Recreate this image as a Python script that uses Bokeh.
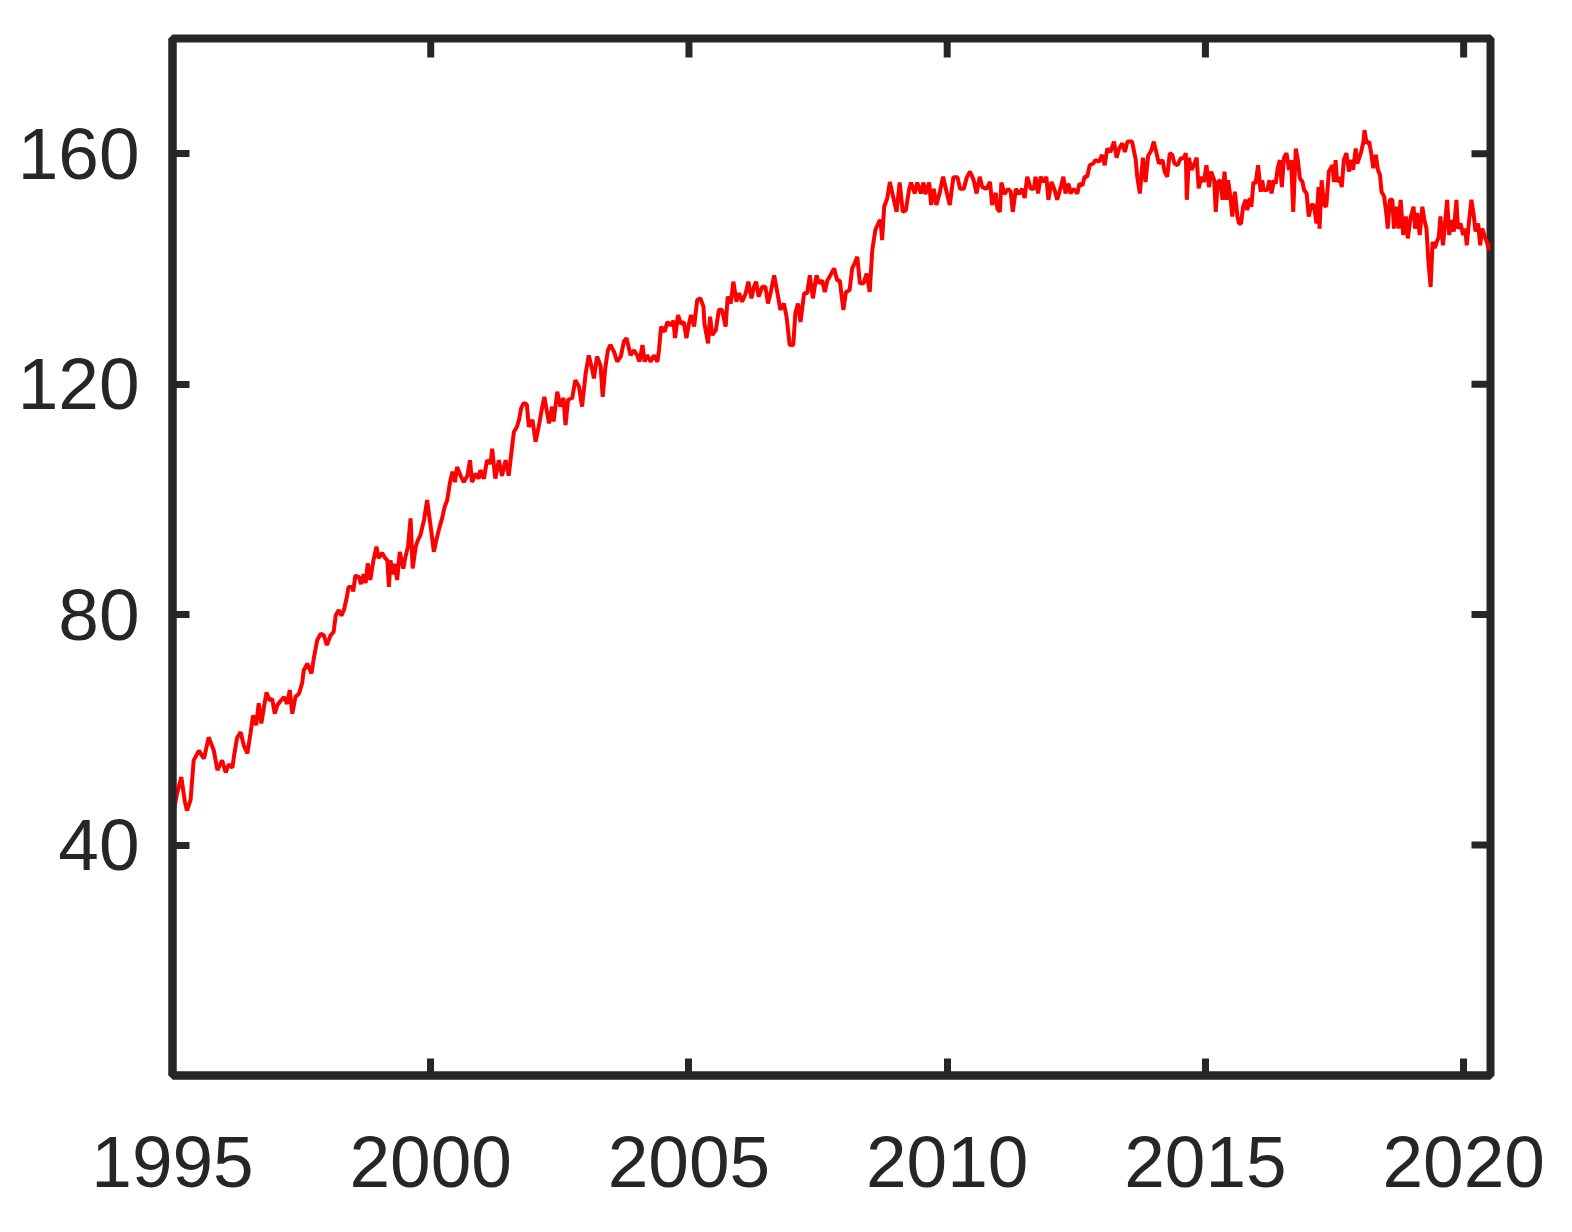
import math
from bokeh.plotting import figure
from bokeh.models import Range1d, FixedTicker, ColumnDataSource
from bokeh.embed import file_html
from bokeh.resources import INLINE

# decimal years of the observations
years = [
    1995.00, 1995.09, 1995.17, 1995.24, 1995.28, 1995.35, 1995.41, 1995.51, 1995.61, 1995.70,
    1995.80, 1995.87, 1995.96, 1996.03, 1996.09, 1996.16, 1996.19, 1996.25, 1996.32, 1996.38,
    1996.45, 1996.51, 1996.56, 1996.62, 1996.67, 1996.72, 1996.77, 1996.82, 1996.88, 1996.93,
    1996.98, 1997.03, 1997.09, 1997.16, 1997.22, 1997.27, 1997.32, 1997.38, 1997.45, 1997.51,
    1997.54, 1997.61, 1997.69, 1997.74, 1997.80, 1997.87, 1997.93, 1997.99, 1998.06, 1998.12,
    1998.16, 1998.22, 1998.27, 1998.32, 1998.37, 1998.41, 1998.48, 1998.50, 1998.54, 1998.61,
    1998.65, 1998.70, 1998.74, 1998.78, 1998.83, 1998.89, 1998.95, 1998.99, 1999.06, 1999.12,
    1999.16, 1999.19, 1999.22, 1999.27, 1999.30, 1999.35, 1999.40, 1999.47, 1999.51, 1999.56,
    1999.61, 1999.65, 1999.71, 1999.75, 1999.80, 1999.87, 1999.93, 2000.00, 2000.06, 2000.11,
    2000.18, 2000.22, 2000.27, 2000.32, 2000.37, 2000.42, 2000.47, 2000.51, 2000.58, 2000.64,
    2000.71, 2000.76, 2000.80, 2000.87, 2000.93, 2000.96, 2001.03, 2001.09, 2001.16, 2001.19,
    2001.25, 2001.32, 2001.38, 2001.45, 2001.51, 2001.56, 2001.61, 2001.67, 2001.71, 2001.75,
    2001.80, 2001.86, 2001.90, 2001.97, 2002.03, 2002.09, 2002.16, 2002.20, 2002.29, 2002.35,
    2002.38, 2002.45, 2002.51, 2002.57, 2002.61, 2002.66, 2002.74, 2002.80, 2002.87, 2002.93,
    2003.00, 2003.06, 2003.13, 2003.16, 2003.22, 2003.29, 2003.33, 2003.38, 2003.43, 2003.48,
    2003.55, 2003.61, 2003.68, 2003.74, 2003.79, 2003.87, 2003.93, 2004.00, 2004.04, 2004.10,
    2004.14, 2004.19, 2004.26, 2004.32, 2004.39, 2004.42, 2004.46, 2004.53, 2004.58, 2004.64,
    2004.70, 2004.73, 2004.79, 2004.84, 2004.90, 2004.95, 2005.00, 2005.04, 2005.10, 2005.16,
    2005.22, 2005.28, 2005.30, 2005.37, 2005.41, 2005.45, 2005.52, 2005.58, 2005.64, 2005.71,
    2005.75, 2005.81, 2005.86, 2005.92, 2005.97, 2006.03, 2006.10, 2006.15, 2006.21, 2006.26,
    2006.30, 2006.35, 2006.42, 2006.48, 2006.53, 2006.58, 2006.65, 2006.71, 2006.77, 2006.84,
    2006.89, 2006.95, 2007.02, 2007.06, 2007.11, 2007.16, 2007.23, 2007.29, 2007.34, 2007.40,
    2007.47, 2007.52, 2007.58, 2007.63, 2007.68, 2007.74, 2007.81, 2007.87, 2007.92, 2007.99,
    2008.04, 2008.11, 2008.16, 2008.21, 2008.26, 2008.31, 2008.38, 2008.44, 2008.50, 2008.55,
    2008.61, 2008.68, 2008.71, 2008.74, 2008.78, 2008.84, 2008.89, 2008.96, 2009.02, 2009.08,
    2009.14, 2009.20, 2009.26, 2009.30, 2009.37, 2009.42, 2009.49, 2009.54, 2009.58, 2009.65,
    2009.69, 2009.74, 2009.79, 2009.85, 2009.92, 2009.98, 2010.05, 2010.12, 2010.20, 2010.25,
    2010.32, 2010.38, 2010.44, 2010.51, 2010.57, 2010.63, 2010.68, 2010.76, 2010.83, 2010.87,
    2010.94, 2010.97, 2011.02, 2011.05, 2011.11, 2011.18, 2011.23, 2011.27, 2011.33, 2011.39,
    2011.45, 2011.50, 2011.55, 2011.62, 2011.68, 2011.71, 2011.76, 2011.81, 2011.87, 2011.92,
    2011.96, 2012.02, 2012.08, 2012.13, 2012.20, 2012.25, 2012.29, 2012.35, 2012.39, 2012.45,
    2012.52, 2012.56, 2012.62, 2012.66, 2012.71, 2012.76, 2012.83, 2012.87, 2012.94, 2013.00,
    2013.05, 2013.10, 2013.16, 2013.23, 2013.28, 2013.33, 2013.39, 2013.44, 2013.49, 2013.58,
    2013.65, 2013.68, 2013.73, 2013.79, 2013.84, 2013.89, 2013.95, 2014.00, 2014.06, 2014.10,
    2014.17, 2014.21, 2014.26, 2014.31, 2014.36, 2014.40, 2014.46, 2014.52, 2014.58, 2014.62,
    2014.64, 2014.68, 2014.73, 2014.78, 2014.83, 2014.87, 2014.92, 2014.97, 2015.02, 2015.07,
    2015.11, 2015.17, 2015.20, 2015.24, 2015.29, 2015.33, 2015.37, 2015.41, 2015.44, 2015.49,
    2015.52, 2015.57, 2015.62, 2015.65, 2015.69, 2015.73, 2015.78, 2015.81, 2015.86, 2015.89,
    2015.93, 2015.97, 2016.02, 2016.07, 2016.10, 2016.13, 2016.20, 2016.24, 2016.28, 2016.33,
    2016.36, 2016.40, 2016.44, 2016.48, 2016.52, 2016.57, 2016.62, 2016.66, 2016.70, 2016.75,
    2016.79, 2016.83, 2016.88, 2016.91, 2016.96, 2017.00, 2017.05, 2017.10, 2017.15, 2017.19,
    2017.21, 2017.25, 2017.30, 2017.34, 2017.39, 2017.46, 2017.49, 2017.52, 2017.55, 2017.60,
    2017.64, 2017.68, 2017.73, 2017.78, 2017.83, 2017.86, 2017.91, 2017.94, 2018.01, 2018.06,
    2018.08, 2018.12, 2018.17, 2018.21, 2018.25, 2018.30, 2018.34, 2018.38, 2018.41, 2018.46,
    2018.51, 2018.53, 2018.57, 2018.62, 2018.65, 2018.70, 2018.74, 2018.78, 2018.83, 2018.88,
    2018.92, 2018.97, 2019.03, 2019.06, 2019.10, 2019.15, 2019.20, 2019.24, 2019.28, 2019.32,
    2019.36, 2019.40, 2019.44, 2019.48, 2019.52, 2019.55, 2019.60, 2019.64, 2019.68, 2019.72,
    2019.76, 2019.81, 2019.86, 2019.89, 2019.94, 2019.99, 2020.03, 2020.06, 2020.10, 2020.15,
    2020.19, 2020.23, 2020.28, 2020.32, 2020.36, 2020.41, 2020.45, 2020.49, 2020.52,
]

# index values
values = [
    44.8, 49.0, 51.8, 47.5, 46.0, 47.8, 54.7, 56.4, 55.0, 58.7,
    56.4, 53.0, 54.7, 52.6, 54.0, 53.4, 55.4, 58.6, 59.6, 57.3,
    55.9, 59.4, 62.5, 60.8, 64.6, 61.1, 63.9, 66.5, 65.1, 65.4,
    62.8, 64.3, 65.0, 65.7, 64.5, 66.9, 62.8, 65.7, 66.3, 68.1,
    70.3, 71.5, 69.8, 72.6, 75.5, 76.7, 76.4, 74.7, 76.4, 77.0,
    79.9, 80.8, 79.8, 80.8, 82.8, 84.8, 84.8, 84.0, 86.8, 86.5,
    85.3, 87.0, 85.5, 88.9, 86.0, 89.4, 91.8, 89.8, 90.7, 89.8,
    89.4, 84.8, 89.4, 87.0, 88.8, 86.0, 90.9, 88.0, 90.0, 91.8,
    96.7, 88.0, 91.8, 92.9, 93.8, 96.4, 99.9, 95.2, 90.9, 93.0,
    95.5, 96.7, 98.7, 99.9, 102.8, 104.8, 103.0, 105.6, 104.1, 103.0,
    104.1, 106.8, 103.0, 104.5, 103.6, 105.1, 103.6, 106.8, 106.2, 108.8,
    103.6, 106.8, 104.1, 106.8, 104.1, 108.0, 111.7, 112.6, 113.8, 115.8,
    116.7, 116.5, 112.6, 113.8, 110.0, 112.6, 116.1, 117.8, 113.2, 116.1,
    113.5, 118.7, 116.1, 117.6, 112.9, 117.3, 117.6, 120.7, 119.6, 116.1,
    121.9, 125.0, 122.4, 121.0, 124.8, 123.1, 117.8, 122.8, 125.9, 126.8,
    125.6, 123.9, 124.8, 127.4, 128.0, 125.0, 125.9, 125.0, 123.9, 126.8,
    123.9, 125.0, 123.9, 125.0, 123.9, 125.9, 130.0, 129.1, 130.8, 130.2,
    131.0, 128.0, 132.0, 130.5, 130.8, 128.0, 130.5, 132.0, 130.0, 134.6,
    134.9, 133.5, 130.5, 127.1, 131.7, 128.5, 129.4, 132.9, 132.9, 130.0,
    135.2, 134.0, 137.8, 134.3, 135.8, 134.3, 135.8, 137.8, 134.9, 136.9,
    137.8, 135.2, 136.9, 136.9, 134.0, 135.8, 138.9, 136.0, 132.9, 134.0,
    131.7, 126.8, 126.8, 132.3, 134.0, 130.8, 135.8, 135.8, 138.9, 134.9,
    138.9, 137.5, 138.0, 136.0, 138.0, 138.9, 140.1, 138.0, 138.0, 132.9,
    136.0, 136.3, 140.1, 141.0, 142.1, 137.5, 137.5, 139.2, 136.0, 143.3,
    146.8, 148.2, 148.5, 145.0, 150.8, 152.3, 155.1, 152.3, 149.9, 155.0,
    149.9, 150.2, 153.7, 155.0, 153.1, 155.0, 153.1, 155.0, 153.0, 155.0,
    151.1, 153.9, 151.1, 153.0, 156.0, 153.7, 151.1, 155.9, 155.9, 153.9,
    153.9, 155.9, 156.9, 155.5, 153.1, 156.0, 154.2, 153.9, 155.1, 151.1,
    153.2, 150.5, 149.9, 155.0, 153.0, 153.9, 153.4, 149.9, 153.9, 153.0,
    153.9, 152.3, 156.0, 153.9, 153.9, 156.0, 153.1, 156.0, 155.1, 156.0,
    152.0, 155.1, 153.7, 152.0, 154.2, 156.0, 153.1, 154.8, 153.1, 153.9,
    153.1, 154.8, 154.5, 156.0, 156.0, 158.0, 158.3, 158.9, 158.6, 159.8,
    158.0, 160.9, 160.3, 162.1, 159.3, 160.9, 161.8, 160.3, 162.1, 162.1,
    159.0, 156.0, 153.1, 159.3, 155.1, 159.6, 160.5, 162.1, 159.8, 158.3,
    158.9, 156.9, 156.0, 160.1, 159.8, 158.3, 158.0, 159.2, 159.2, 160.1,
    152.0, 159.3, 157.2, 158.1, 159.3, 154.0, 156.0, 155.1, 158.0, 154.2,
    156.9, 155.4, 149.9, 155.1, 155.4, 152.0, 156.9, 152.0, 155.4, 152.0,
    149.1, 153.4, 149.1, 147.9, 147.9, 150.8, 152.0, 150.2, 152.3, 150.8,
    155.1, 154.8, 158.0, 153.4, 155.4, 153.7, 153.7, 155.4, 153.1, 155.4,
    154.8, 157.5, 158.9, 154.2, 159.3, 160.1, 157.2, 158.9, 149.9, 160.9,
    158.9, 155.7, 155.1, 153.7, 153.1, 149.1, 151.1, 151.1, 147.9, 154.2,
    147.0, 155.4, 151.1, 150.8, 156.9, 158.0, 155.1, 158.9, 155.1, 155.9,
    154.2, 158.9, 160.1, 156.9, 158.9, 157.2, 160.9, 158.3, 160.1, 162.1,
    164.1, 161.8, 162.1, 160.1, 157.5, 159.8, 157.2, 156.3, 153.4, 152.6,
    149.1, 147.0, 152.0, 152.0, 147.0, 150.8, 147.0, 152.0, 145.9, 149.1,
    145.3, 148.8, 150.8, 147.0, 149.7, 145.9, 150.8, 148.5, 147.0, 141.0,
    136.9, 144.7, 143.6, 144.7, 145.6, 149.1, 144.1, 147.9, 152.0, 145.9,
    148.5, 146.5, 152.0, 147.0, 147.9, 145.9, 147.0, 144.1, 147.9, 152.0,
    149.7, 146.5, 147.9, 144.1, 147.0, 145.6, 144.7, 143.3, 144.5,
]

x_ticks = [1995, 2000, 2005, 2010, 2015, 2020]
y_ticks = [40, 80, 120, 160]

X_MIN, X_MAX = 1995, 2020.52
Y_MIN, Y_MAX = 0, 180

INK = "#262626"
FONT = "Liberation Sans"
FSIZE = "73px"
TICK_LEN = 17

source = ColumnDataSource(data=dict(year=years, value=values))

p = figure(
    frame_width=1318, frame_height=1037,
    min_border_left=172, min_border_right=70,
    min_border_top=38, min_border_bottom=150,
    x_range=Range1d(X_MIN, X_MAX), y_range=Range1d(Y_MIN, Y_MAX),
    output_backend="svg", toolbar_location=None,
    background_fill_color="white", border_fill_color="white",
)
p.line("year", "value", source=source, line_color="#ff0000", line_width=4)

p.grid.visible = False
p.outline_line_color = INK
p.outline_line_width = 8

for ax in (p.xaxis[0], p.yaxis[0]):
    ax.axis_line_color = INK
    ax.axis_line_width = 8
    ax.major_tick_line_color = INK
    ax.major_tick_line_width = 7
    ax.major_tick_in = TICK_LEN
    ax.major_tick_out = 0
    ax.minor_tick_line_color = None
    ax.major_label_text_font = FONT
    ax.major_label_text_font_size = FSIZE
    ax.major_label_text_color = INK

p.xaxis[0].ticker = FixedTicker(ticks=x_ticks)
p.yaxis[0].ticker = FixedTicker(ticks=y_ticks)
p.xaxis[0].major_label_standoff = 61
p.yaxis[0].major_label_standoff = 33

# mirrored inward ticks on the top and right edges (box on); the outer half
# of each dash is clipped away by the plot frame
p.scatter(x=x_ticks, y=[Y_MAX] * len(x_ticks), marker="dash", size=2 * TICK_LEN + 4,
          angle=math.pi / 2, line_color=INK, line_width=7, fill_color=None)
p.scatter(x=[X_MAX] * len(y_ticks), y=y_ticks, marker="dash", size=2 * TICK_LEN + 4,
          line_color=INK, line_width=7, fill_color=None)

open("out.html", "w").write(file_html(p, INLINE))
